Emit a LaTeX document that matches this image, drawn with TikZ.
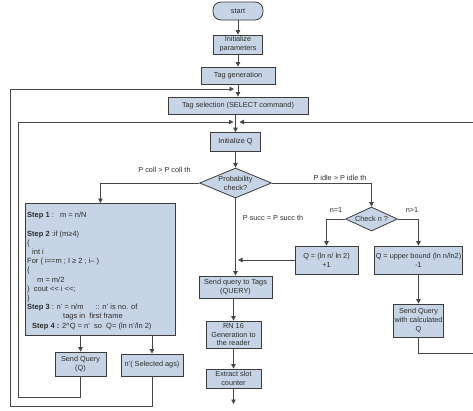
\documentclass[tikz,border=0pt]{standalone}
\usepackage{fontspec}
\setmainfont{Liberation Sans}
\usetikzlibrary{shapes.geometric,arrows.meta}
\definecolor{boxfill}{RGB}{199,212,229}
\definecolor{boxline}{RGB}{60,60,60}
\definecolor{wire}{RGB}{70,70,70}
\definecolor{txt}{RGB}{45,45,45}

\begin{document}
\begin{tikzpicture}[x=1pt,y=-1pt,
    proc/.style={draw=boxline, fill=boxfill, line width=0.8pt, inner sep=1pt, align=center,
        font=\fontsize{7.3}{8.8}\selectfont, text=txt},
    decide/.style={proc, shape=diamond, aspect=2.4, inner sep=0pt},
    arr/.style={draw=wire, line width=0.8pt, -{Triangle[length=4.5pt,width=4.5pt]}},
    lbl/.style={font=\fontsize{7.3}{8.8}\selectfont, text=txt, inner sep=1pt}]
    \useasboundingbox (0,0) rectangle (473,410);
    \clip (0,0) rectangle (473,410);
    % main column
    \node[proc, rounded corners=8pt, minimum width=50pt, minimum height=18pt] (start) at (238,11) {start};
    \node[proc, minimum width=49pt, minimum height=19pt] (initp) at (238,44.5) {Initialize\\parameters};
    \node[proc, minimum width=74pt, minimum height=17pt] (taggen) at (238,75.5) {Tag generation};
    \node[proc, minimum width=140pt, minimum height=17pt] (tagsel) at (238,105.5) {Tag selection (SELECT command)};
    \node[proc, minimum width=50pt, minimum height=19pt] (initq) at (235.5,142) {Initialize Q};
    \node[decide, minimum width=72pt, minimum height=30pt] (prob) at (235.5,183) {Probability\\check?};
    \node[proc, minimum width=73pt, minimum height=22pt] (sendt) at (235.5,287) {Send query to Tags\\(QUERY)};
    \node[proc, minimum width=55pt, minimum height=27pt] (rn) at (233.5,334.5) {RN 16\\Generation to\\the reader};
    \node[proc, minimum width=55pt, minimum height=19pt] (extract) at (233.5,378.5) {Extract slot\\counter};
    % right branch
    \node[decide, aspect=2.2, minimum width=52pt, minimum height=24pt] (checkn) at (371.5,219) {Check n ?};
    \node[proc, minimum width=63pt, minimum height=28pt] (qone) at (326.5,260) {Q = (ln n/ ln 2)\\+1};
    \node[proc, minimum width=88pt, minimum height=28pt] (qtwo) at (418.5,260) {Q = upper bound (ln n/ln2)\\-1};
    \node[proc, minimum width=50pt, minimum height=33pt] (sendc) at (418.5,320.5) {Send Query\\with calculated\\Q};
    % left branch
    \node[proc, minimum width=150pt, minimum height=132pt, anchor=north west] (stepbox) at (25,203) {};
    \node[lbl, anchor=north west, align=left, inner sep=0pt, font=\fontsize{7.5}{9.2}\selectfont] (steptxt)
        at ([shift={(2pt,-9pt)}]stepbox.north west) {%
        \textbf{Step 1} :\ \ \ m = n/N\\
        \mbox{}\\
        \textbf{Step 2} :if (m≥4)\\
        \{\\
        \hspace*{5pt}int i\\
        For ( i==m ; I ≥ 2 ; i-- )\\
        \{\\
        \hspace*{10pt}m = m/2\\
        \}\ \ cout <\kern0pt< i <\kern0pt<;\\
        \}\\
        \textbf{Step 3} : n' = n/m\hspace*{12pt}:: n' is no. of\\
        \hspace*{36pt}tags in\ \ first frame\\
        \hspace*{5pt}\textbf{Step 4 :} 2\textasciicircum Q = n'\ \ so\ \ Q= (ln n'/ln 2)};
    \node[proc, minimum width=51pt, minimum height=24pt] (sendq) at (80.5,364) {Send Query\\(Q)};
    \node[proc, minimum width=62pt, minimum height=22pt] (nsel) at (152,365) {n'( Selected ags)};
    % loop ends
    \coordinate (selin) at (234,89);
    \coordinate (qinl) at (233.5,122);
    \coordinate (qinr) at (239.5,122);
    \coordinate (joinq) at (238,260);
    \coordinate (endpt) at (233.5,404);
    % labels
    \node[lbl] (pcoll) at (164.5,169.5) {P coll > P coll th};
    \node[lbl, fill=white] (pidle) at (340,178) {P idle > P idle th};
    \node[lbl] (psucc) at (273,218) {P succ = P succ th};
    \node[lbl] (none) at (336,210) {n=1};
    \node[lbl] (nmore) at (412,210) {n>1};
    % connectors
    \draw[arr] (start) -- (initp);
    \draw[arr] (initp) -- (taggen);
    \draw[arr] (taggen) -- (tagsel);
    \draw[arr] (tagsel.south -| initq) -- (initq);
    \draw[arr] (initq) -- (prob);
    \draw[arr] (prob.west) -| (stepbox.north);
    \draw[arr] (prob.east) -| (checkn.north);
    \draw[arr] (prob) -- (sendt);
    \draw[arr] (checkn.west) -| (qone.north);
    \draw[arr] (checkn.east) -| (qtwo.north);
    \draw[arr] (qone) -- (joinq);
    \draw[arr] (qtwo) -- (sendc);
    \draw[arr] (sendt.south -| rn) -- (rn);
    \draw[arr] (rn) -- (extract);
    \draw[arr] (extract) -- (endpt);
    \draw[arr] (stepbox.south -| sendq) -- (sendq);
    \draw[arr] (stepbox.south -| nsel) -- (nsel);
    \draw[arr] (nsel.south) -- ++(0,30) -| (10,89) -- (selin);
    \draw[arr] (sendq.south) -- ++(0,21) -| (18,122) -- (qinl);
    \draw[arr] (sendc.south) -- ++(0,16) -| (474.5,122) -- (qinr);
\end{tikzpicture}
\end{document}
